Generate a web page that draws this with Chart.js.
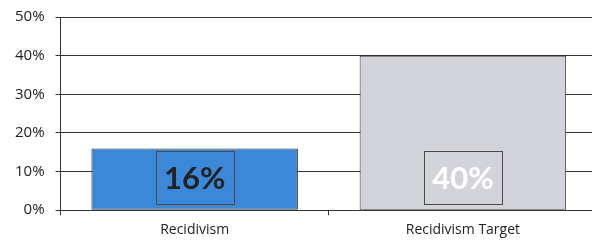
<!DOCTYPE html>
<html>
<head>
<meta charset="utf-8">
<script src="https://cdn.jsdelivr.net/npm/chart.js@4"></script>
<style>
  html, body { margin: 0; padding: 0; background: #fff; overflow: hidden; }
</style>
</head>
<body>
<canvas id="barChart" width="598" height="246"></canvas>
<script>
const categories = ['Recidivism', 'Recidivism Target'];
const values = [16, 40];
const yTicks = [0, 10, 20, 30, 40, 50];
const barColors = ['#3b88d8', '#d3d3da'];
const labelColors = ['#222222', '#ffffff'];

// boxed value label sitting near the bottom of each bar
const boxLabels = {
    id: 'boxLabels',
    afterDatasetsDraw(chart) {
        const ctx = chart.ctx;
        const meta = chart.getDatasetMeta(0);
        meta.data.forEach((bar, i) => {
            const w = 78, h = 53;
            const x = bar.x - w / 2;
            const y = bar.base - 6 - h;
            ctx.save();
            ctx.strokeStyle = '#4a4a4a';
            ctx.lineWidth = 1;
            ctx.strokeRect(Math.round(x) + 0.5, Math.round(y) + 0.5, w, h);
            ctx.fillStyle = labelColors[i];
            ctx.font = 'bold 31px Lato, "Open Sans", sans-serif';
            ctx.textAlign = 'center';
            ctx.textBaseline = 'middle';
            ctx.fillText(values[i] + '%', bar.x, y + h / 2 + 2);
            ctx.restore();
        });
    }
};

new Chart(document.getElementById('barChart'), {
    type: 'bar',
    data: {
        labels: categories,
        datasets: [{
            data: values,
            backgroundColor: barColors,
            borderColor: '#3a3a3a',
            borderWidth: 1,
            borderSkipped: false,
            barPercentage: 0.77,
            categoryPercentage: 1
        }]
    },
    options: {
        responsive: false,
        animation: false,
        layout: { padding: { top: 17, right: 1, left: 4, bottom: 2 } },
        plugins: {
            legend: { display: false },
            tooltip: { enabled: false }
        },
        scales: {
            x: {
                grid: { drawOnChartArea: false, color: '#333', tickLength: 5 },
                border: { color: '#333' },
                ticks: { color: '#222', font: { family: '"Open Sans", sans-serif', size: 14 }, padding: 6 }
            },
            y: {
                min: 0,
                max: 50,
                afterBuildTicks: axis => { axis.ticks = yTicks.map(v => ({ value: v })); },
                afterFit: axis => { axis.paddingTop = 0; axis.paddingBottom = 0; },
                grid: { color: '#333', tickLength: 5 },
                border: { color: '#333' },
                ticks: {
                    color: '#222',
                    font: { family: '"Open Sans", sans-serif', size: 15 },
                    padding: 11,
                    callback: v => v + '%'
                }
            }
        }
    },
    plugins: [boxLabels]
});
</script>
</body>
</html>
